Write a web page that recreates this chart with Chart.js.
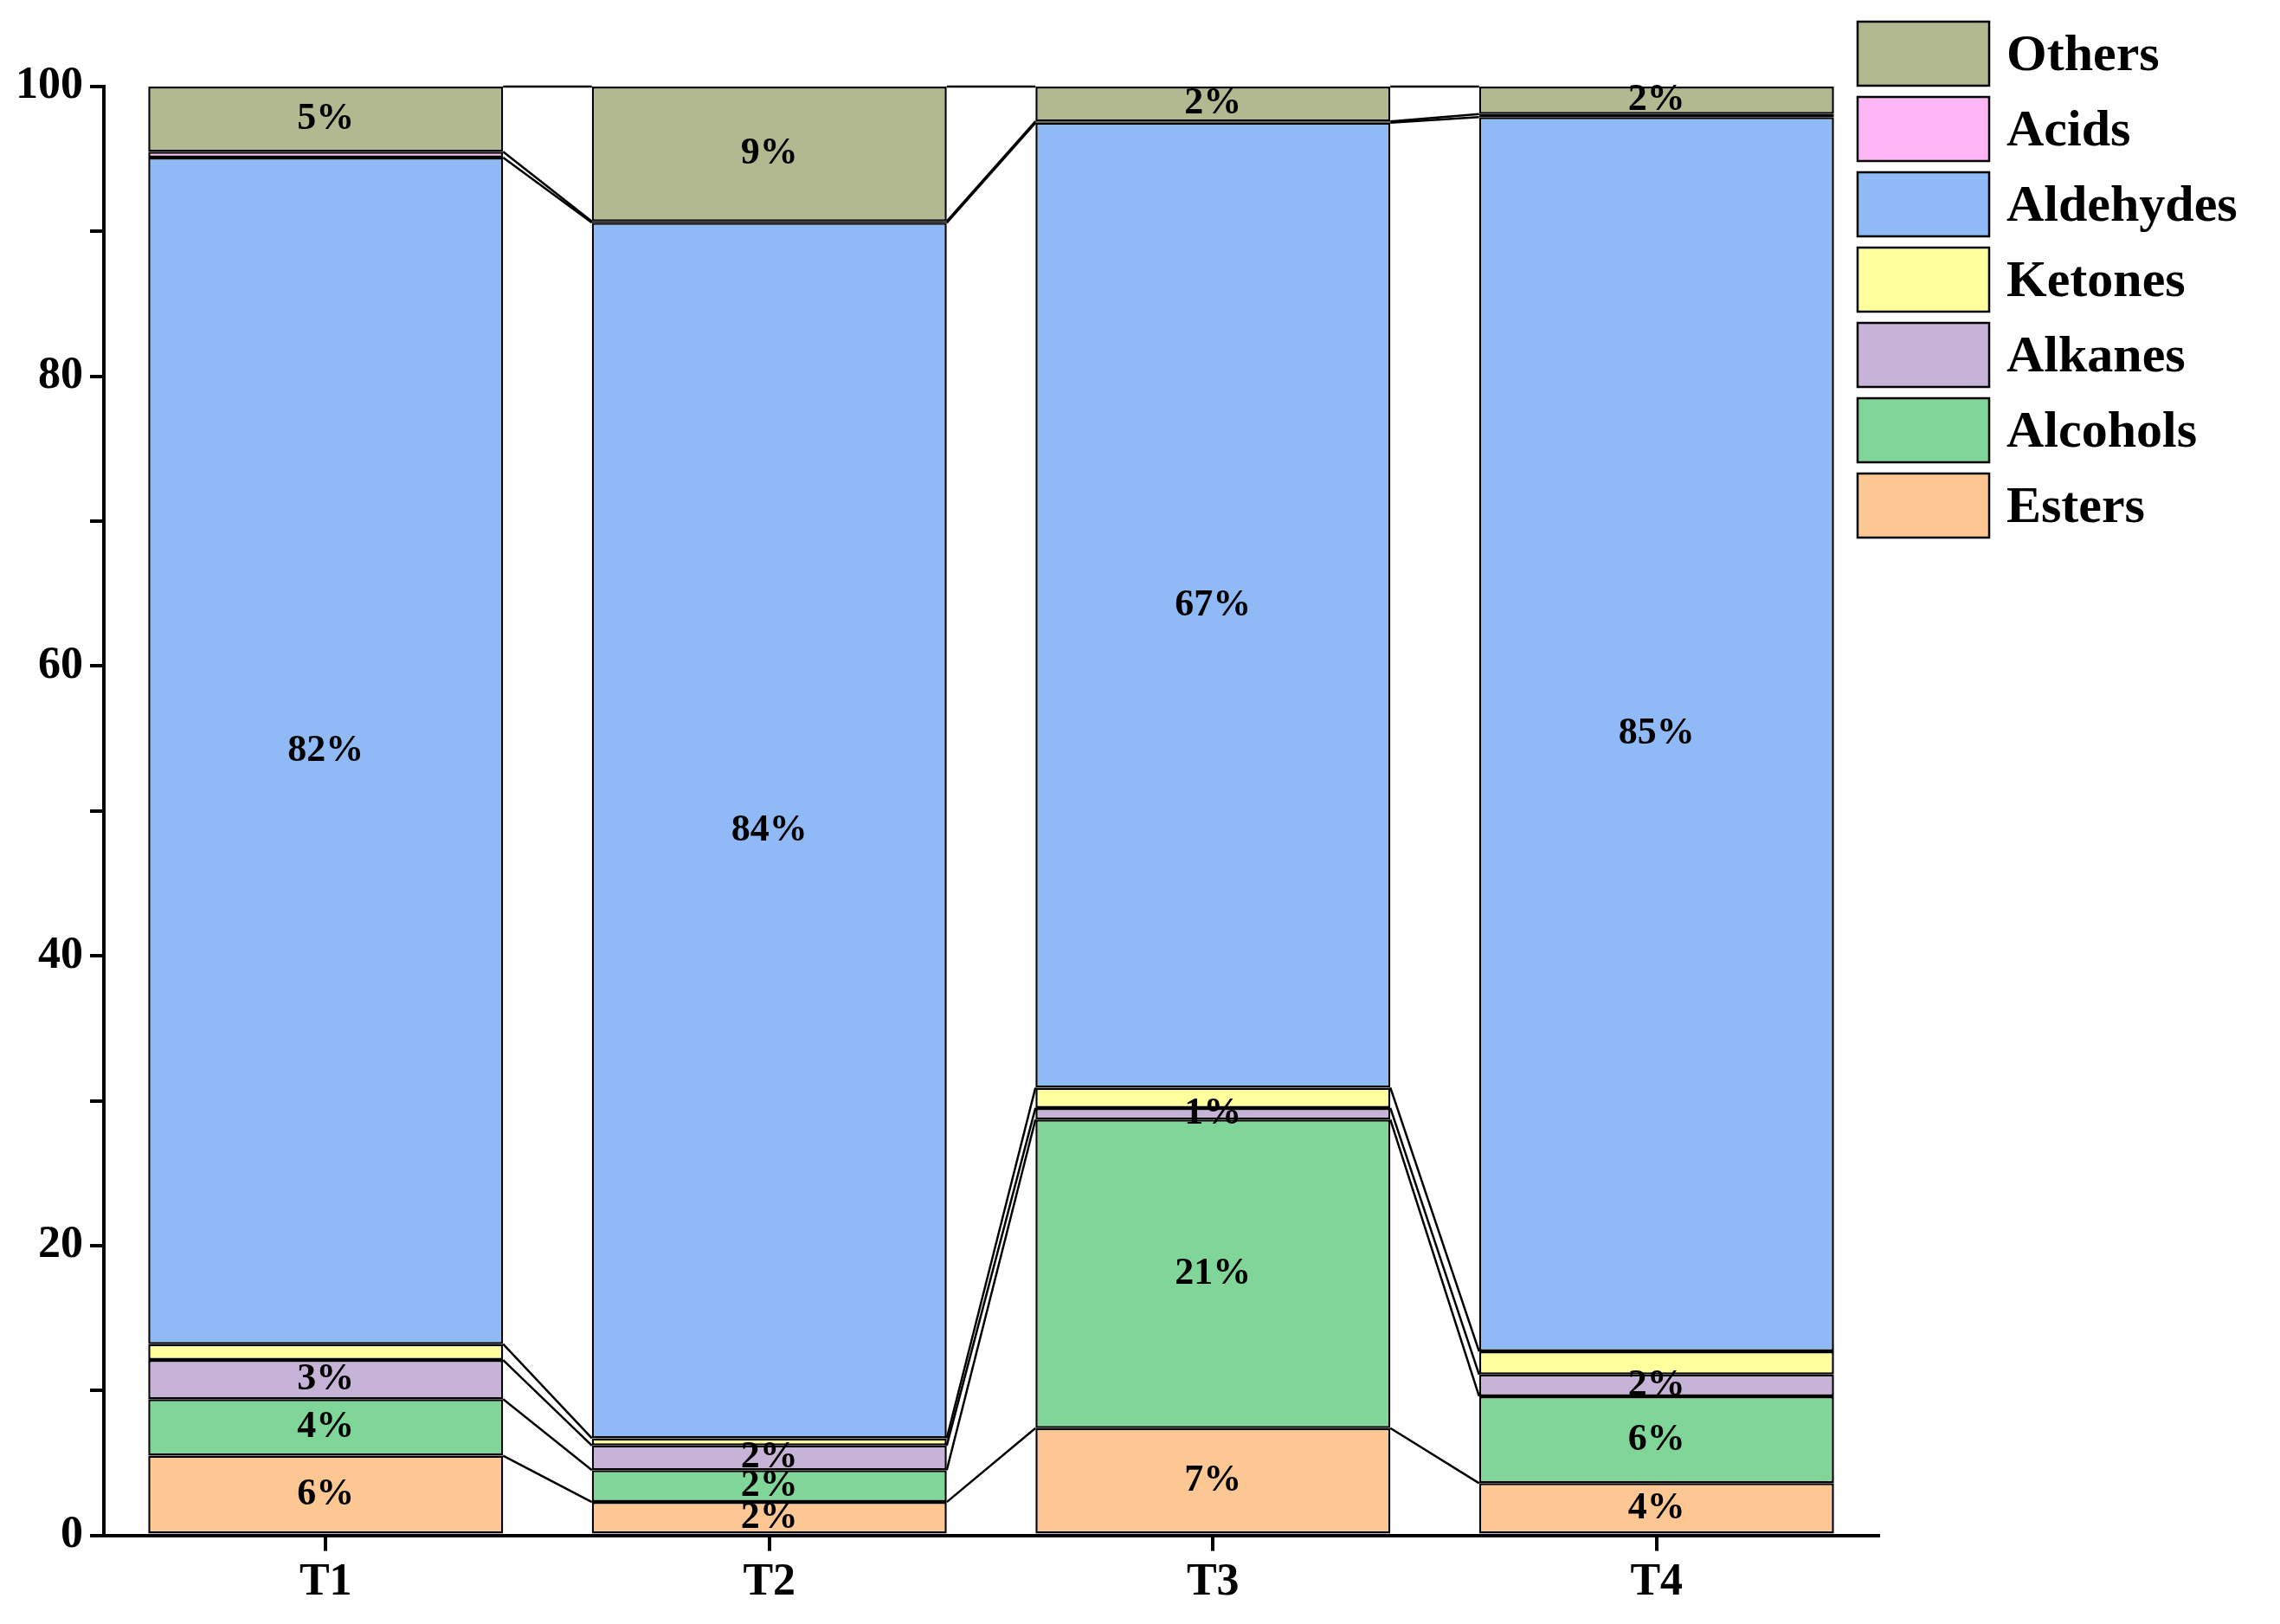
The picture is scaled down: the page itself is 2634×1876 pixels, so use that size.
<!DOCTYPE html>
<html>
<head>
<meta charset="utf-8">
<script src="https://cdn.jsdelivr.net/npm/chart.js@4"></script>
<style>
  html, body { margin: 0; padding: 0; background: #fff; }
  #wrap { width: 2634px; height: 1876px; }
</style>
</head>
<body>
<div id="wrap"><canvas id="chart"></canvas></div>
<script>
const groups = ['T1', 'T2', 'T3', 'T4'];
const esters    = [5.5, 2.3, 7.4, 3.6];
const alcohols  = [3.9, 2.2, 21.3, 6.0];
const alkanes   = [2.7, 1.7, 0.8, 1.5];
const ketones   = [1.1, 0.5, 1.4, 1.6];
const aldehydes = [81.9, 83.9, 66.6, 85.2];
const acids     = [0.4, 0.1, 0.1, 0.2];
const others    = [4.5, 9.3, 2.4, 1.9];
const yTicks = [0, 20, 40, 60, 80, 100];

const series = [
   { label: 'Esters', data: esters, color: '#fdc794', showPct: true },
   { label: 'Alcohols', data: alcohols, color: '#80d698', showPct: true },
   { label: 'Alkanes', data: alkanes, color: '#c7b3d8', showPct: true },
   { label: 'Ketones', data: ketones, color: '#ffff9e', showPct: false },
   { label: 'Aldehydes', data: aldehydes, color: '#8fbaf5', showPct: true },
   { label: 'Acids', data: acids, color: '#ffb6f5', showPct: false },
   { label: 'Others', data: others, color: '#b2b990', showPct: true },
];

const FONT = '"Liberation Serif", "Times New Roman", serif';

// lines joining the tops of the same segment in neighbouring bars
const linkLines = {
   id: 'linkLines',
   afterDatasetsDraw(chart) {
      const ctx = chart.ctx;
      ctx.save();
      ctx.strokeStyle = '#000';
      ctx.lineWidth = 2.5;
      chart.data.datasets.forEach((ds, di) => {
         const bars = chart.getDatasetMeta(di).data;
         for (let i = 0; i < bars.length - 1; i++) {
            const a = bars[i], b = bars[i + 1];
            ctx.beginPath();
            ctx.moveTo(a.x + a.width / 2, a.y);
            ctx.lineTo(b.x - b.width / 2, b.y);
            ctx.stroke();
         }
      });
      ctx.restore();
   }
};

// percentage labels inside segments
const pctLabels = {
   id: 'pctLabels',
   afterDatasetsDraw(chart) {
      const ctx = chart.ctx;
      ctx.save();
      ctx.font = 'bold 44px ' + FONT;
      ctx.fillStyle = '#000';
      ctx.textAlign = 'center';
      ctx.textBaseline = 'middle';
      chart.data.datasets.forEach((ds, di) => {
         if (!series[di].showPct) return;
         chart.getDatasetMeta(di).data.forEach((bar, i) => {
            const v = ds.data[i];
            ctx.fillText(Math.round(v) + '%', bar.x, (bar.y + bar.base) / 2);
         });
      });
      ctx.restore();
   }
};

// legend box at the top right, Others first
const boxLegend = {
   id: 'boxLegend',
   afterDraw(chart) {
      const ctx = chart.ctx;
      ctx.save();
      ctx.font = 'bold 60px ' + FONT;
      ctx.textBaseline = 'middle';
      const x = 2146, y0 = 25, step = 87, w = 152, h = 74;
      series.slice().reverse().forEach((s, k) => {
         const y = y0 + k * step;
         ctx.fillStyle = s.color;
         ctx.fillRect(x, y, w, h);
         ctx.strokeStyle = '#000';
         ctx.lineWidth = 2.5;
         ctx.strokeRect(x, y, w, h);
         ctx.fillStyle = '#000';
         ctx.fillText(s.label, x + w + 20, y + h / 2 + 3);
      });
      ctx.restore();
   }
};

new Chart(document.getElementById('chart'), {
   type: 'bar',
   data: {
      labels: groups,
      datasets: series.map(s => ({
         label: s.label,
         data: s.data,
         backgroundColor: s.color,
         borderColor: '#000',
         borderWidth: 2.5,
         borderSkipped: false,
         barPercentage: 0.8,
         categoryPercentage: 1,
      }))
   },
   options: {
      responsive: true,
      maintainAspectRatio: false,
      animation: false,
      layout: { padding: { left: 10, top: 100, right: 464, bottom: 10 } },
      plugins: {
         legend: { display: false },
         tooltip: { enabled: false }
      },
      scales: {
         x: {
            stacked: true,
            border: { color: '#000', width: 4 },
            grid: { offset: false, drawOnChartArea: false, color: '#000', lineWidth: 4, tickLength: 18 },
            ticks: { color: '#000', font: { family: FONT, weight: 'bold', size: 52 }, padding: 6 }
         },
         y: {
            stacked: true,
            min: 0,
            max: 100,
            afterBuildTicks: scale => {
               const t = [];
               for (let v = 0; v <= 100; v += 10) t.push({ value: v });
               scale.ticks = t;
            },
            border: { color: '#000', width: 4 },
            grid: { drawOnChartArea: false, color: '#000', lineWidth: 4, tickLength: 16 },
            ticks: {
               color: '#000',
               font: { family: FONT, weight: 'bold', size: 52 },
               padding: 8,
               callback: v => yTicks.includes(v) ? v : ''
            }
         }
      }
   },
   plugins: [linkLines, pctLabels, boxLegend]
});
</script>
</body>
</html>
